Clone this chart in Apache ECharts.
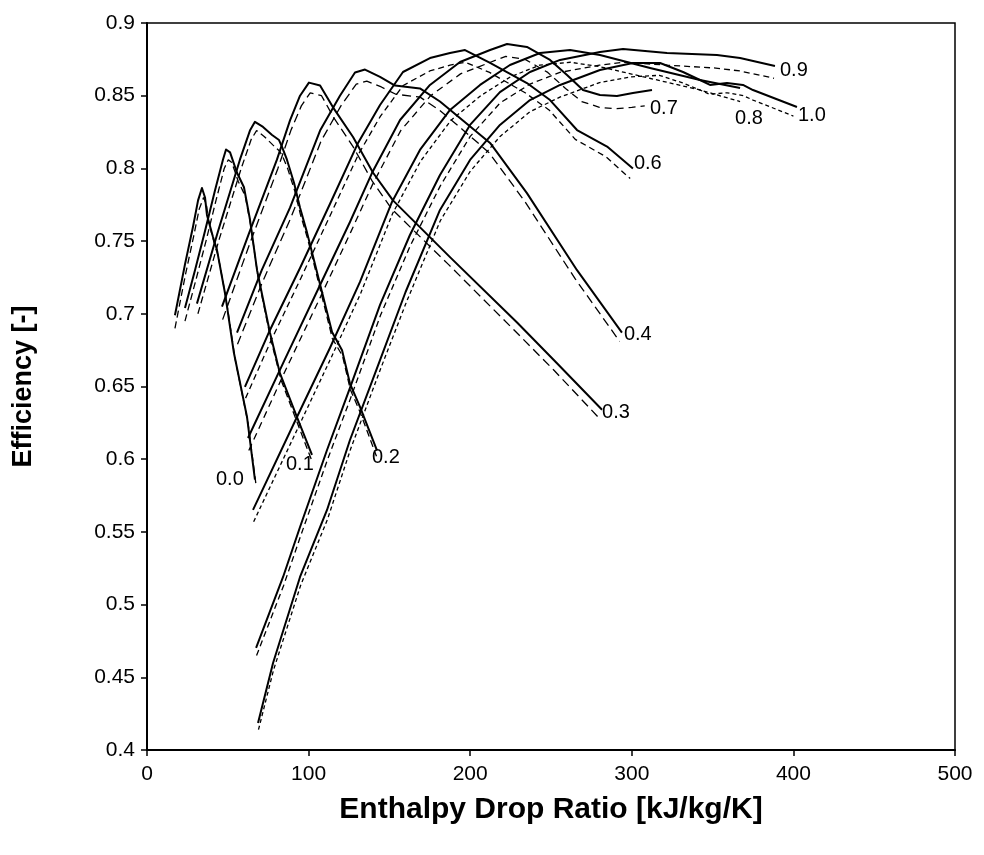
<!DOCTYPE html>
<html>
<head>
<meta charset="utf-8">
<script src="https://cdn.jsdelivr.net/npm/echarts@6/dist/echarts.min.js"></script>
<style>
html,body{margin:0;padding:0;background:#fff;}
#c{width:984px;height:855px;}
</style>
</head>
<body>
<div id="c"></div>
<script>
// Curve labels
const curveNames = ['0.0','0.1','0.2','0.3','0.4','0.6','0.7','0.8','0.9','1.0'];
// X tick values / Y tick values
const xTicks = [0,100,200,300,400,500];
const yTicks = [0.4,0.45,0.5,0.55,0.6,0.65,0.7,0.75,0.8,0.85,0.9];

// Solid curves [enthalpy drop ratio, efficiency]
const s00 = [[17.3,0.699],[23.5,0.734],[28.5,0.760],[31.6,0.778],[34.0,0.7865],[35.9,0.780],[37.1,0.768],[40.8,0.753],[43.3,0.744],[48.3,0.714],[53.8,0.673],[61.9,0.629],[66.8,0.586]];
const s01 = [[23.5,0.704],[29.7,0.730],[35.9,0.757],[42.1,0.785],[47.0,0.806],[48.9,0.813],[51.4,0.811],[55.7,0.797],[60.0,0.787],[63.7,0.765],[68.1,0.730],[76.1,0.687],[82.3,0.659],[92.8,0.629],[102.1,0.603]];
const s02 = [[30.9,0.707],[44,0.757],[57.5,0.806],[63.7,0.826],[66.8,0.832],[71.8,0.8285],[77.4,0.823],[81.7,0.8195],[83.5,0.815],[86.6,0.806],[91.0,0.790],[94.7,0.773],[99.0,0.756],[103.3,0.737],[114.5,0.6875],[120.7,0.675],[125.6,0.652],[131.8,0.636],[142.3,0.606]];
const s03 = [[46.4,0.705],[63,0.755],[80.4,0.806],[88.5,0.833],[94.7,0.850],[100.2,0.859],[107.1,0.857],[115.1,0.842],[127.5,0.8216],[139.9,0.797],[152.2,0.778],[187.5,0.739],[229.0,0.694],[253.7,0.666],[281.6,0.634]];
const s04 = [[55.7,0.687],[71,0.730],[88.5,0.773],[107.1,0.826],[119.4,0.850],[128.7,0.866],[134.9,0.868],[144.2,0.863],[153.5,0.857],[168.9,0.855],[181.3,0.846],[195.5,0.833],[212.3,0.8175],[235.1,0.783],[266.1,0.730],[293.9,0.687]];
const s06 = [[60.6,0.6497],[76.1,0.6889],[94.7,0.7315],[113.2,0.7755],[130.6,0.8175],[144.2,0.8436],[158.4,0.8663],[175.1,0.8759],[187.5,0.8794],[196.8,0.8814],[212.3,0.8725],[235.1,0.8587],[249.4,0.847],[266.1,0.8264],[284.7,0.815],[300.7,0.800]];
const s07 = [[62.5,0.6146],[84.8,0.6675],[107.1,0.7198],[125.6,0.7631],[139.2,0.7968],[156.6,0.8333],[175.1,0.8574],[193.7,0.8732],[212.3,0.8814],[222.8,0.8856],[235.1,0.8835],[249.4,0.8746],[259.9,0.8642],[269.8,0.8539],[280.3,0.8505],[290.8,0.8498],[300.7,0.8519],[312.5,0.8539]];
const s08 = [[65.6,0.5651],[92.8,0.6290],[113.2,0.6765],[131.8,0.7219],[151.6,0.7769],[168.9,0.8127],[187.5,0.8402],[206.1,0.8574],[224.6,0.8711],[243.2,0.8794],[261.8,0.8814],[280.3,0.8780],[311.3,0.8690],[342.2,0.8608],[367.0,0.8553]];
const s09 = [[67.5,0.4702],[84.2,0.5190],[94.7,0.5534],[111.4,0.6063],[125.6,0.6490],[144.2,0.7061],[162.7,0.7542],[181.3,0.7955],[199.9,0.8299],[218.4,0.8525],[237.0,0.8663],[255.6,0.8746],[280.3,0.8801],[294.6,0.8821],[321.8,0.8794],[352.7,0.8780],[367.0,0.8759],[388.6,0.8704]];
const s10 = [[68.7,0.4186],[78.0,0.4598],[94.7,0.5190],[111.4,0.5651],[125.6,0.6132],[144.2,0.6682],[160.0,0.715],[181.3,0.7714],[199.9,0.8058],[218.4,0.8299],[237.0,0.8470],[255.6,0.8574],[280.3,0.8677],[300.7,0.8725],[317.5,0.8725],[331.7,0.8663],[342.2,0.8608],[348.4,0.8574],[358.9,0.8587],[368.8,0.8574],[375.0,0.8539],[402.2,0.8422]];

// Dashed companion curves
const d00 = [[17.3,0.690],[23.8,0.727],[29.0,0.754],[32.3,0.772],[35.0,0.780],[36.8,0.775],[38.0,0.764],[41.5,0.749],[44.0,0.740],[49.0,0.710],[54.5,0.669],[62.5,0.625],[67.5,0.582]];
const d01 = [[23.5,0.695],[30.2,0.723],[36.5,0.750],[42.7,0.778],[47.8,0.800],[50.3,0.806],[52.5,0.804],[56.5,0.791],[60.8,0.781],[64.3,0.760],[68.6,0.726],[76.5,0.683],[82.8,0.655],[93.0,0.625],[102.0,0.599]];
const d02 = [[31.5,0.700],[44.6,0.751],[58.3,0.800],[64.5,0.820],[67.8,0.826],[72.5,0.822],[78.0,0.816],[82.0,0.812],[84.0,0.808],[87.0,0.800],[91.3,0.785],[95.0,0.768],[99.3,0.752],[103.6,0.733],[114.7,0.683],[121.0,0.671],[125.8,0.648],[132.0,0.632],[142.0,0.602]];
const d03 = [[46.8,0.696],[63.5,0.748],[81,0.800],[89,0.826],[95.5,0.843],[101,0.852],[108,0.850],[115.5,0.835],[127.5,0.815],[139.5,0.791],[151.5,0.772],[186.5,0.734],[227,0.689],[252,0.661],[280,0.628]];
const d04 = [[56,0.679],[71.5,0.722],[89,0.766],[107.8,0.819],[120,0.843],[129.5,0.858],[136,0.860],[145,0.856],[154,0.851],[169,0.849],[181,0.840],[195,0.827],[211.5,0.811],[234,0.777],[265,0.724],[292.5,0.681]];
const d06 = [[61,0.642],[76.5,0.681],[95,0.724],[113.5,0.768],[131,0.810],[144.5,0.836],[158.5,0.857],[175,0.867],[187.5,0.871],[197,0.873],[212,0.866],[234,0.852],[249,0.840],[265,0.820],[284,0.808],[299,0.793]];
const d07 = [[63,0.606],[85.2,0.660],[107.5,0.712],[126,0.756],[139.6,0.789],[157,0.826],[175.5,0.850],[194,0.865],[212.5,0.873],[222,0.877],[234,0.875],[248,0.866],[259,0.855],[269,0.846],[280,0.842],[290,0.841],[300,0.842],[308,0.843]];
const d08 = [[66,0.557],[93.2,0.621],[113.6,0.669],[132.2,0.714],[152,0.769],[169.3,0.805],[188,0.833],[206.5,0.850],[225,0.863],[243,0.871],[262,0.873],[280,0.870],[311,0.862],[342,0.854],[367,0.846]];
const d09 = [[67.8,0.465],[84.5,0.513],[95,0.547],[111.8,0.600],[126,0.642],[144.5,0.699],[163,0.747],[181.5,0.788],[200,0.822],[218.5,0.845],[237,0.858],[255.5,0.866],[280,0.871],[295,0.873],[322,0.871],[352,0.869],[367,0.867],[388,0.862]];
const d10 = [[69,0.414],[78.3,0.455],[95,0.513],[111.8,0.559],[126,0.607],[144.5,0.662],[160.5,0.708],[181.5,0.764],[200,0.798],[218.5,0.822],[237,0.839],[255.5,0.849],[280,0.859],[300,0.863],[317,0.864],[331,0.859],[342,0.854],[348,0.851],[359,0.852],[369,0.850],[375,0.847],[400,0.836]];

const solids = [s00,s01,s02,s03,s04,s06,s07,s08,s09,s10];
const dashes = [d00,d01,d02,d03,d04,d06,d07,d08,d09,d10];
// label offsets relative to curve end (style only)
const labelOffsets = [[-42,0],[-29,10],[-8,7],[-3,3],[-1,2],[-2,-5],[-5,18],[-8,30],[2,4],[-2,8]];
const dashPatterns = [[7,4],[7,4],[7,4],[9,5],[9,5],[6,4],[7,5],[4,3],[6,4],[4,3]];

const FONT = 'Liberation Sans, Arial, sans-serif';
const series = [];
solids.forEach((d,i)=>{
  series.push({
    type:'line', name:curveNames[i], data:d, showSymbol:false, symbol:'none',
    smooth:false,
    lineStyle:{color:'#000', width:2, join:'round'},
    endLabel:{show:true, formatter:curveNames[i], color:'#000', fontSize:20, fontFamily:FONT,
      offset:labelOffsets[i], align:'left', verticalAlign:'middle', distance:3},
    silent:true, animation:false, z:3
  });
});
dashes.forEach((d,i)=>{
  series.push({
    type:'line', name:curveNames[i]+'d', data:d, showSymbol:false, symbol:'none',
    smooth:false,
    lineStyle:{color:'#000', width:1.3, type:dashPatterns[i]},
    silent:true, animation:false, z:2
  });
});

const chart = echarts.init(document.getElementById('c'), null, {renderer:'canvas'});
chart.setOption({
  backgroundColor:'#fff',
  animation:false,
  grid:{left:147, top:23, width:808, height:727, show:true, borderColor:'#000', borderWidth:1.5, backgroundColor:'transparent'},
  xAxis:{
    type:'value', min:xTicks[0], max:xTicks[xTicks.length-1], interval:100,
    name:'Enthalpy Drop Ratio [kJ/kg/K]', nameLocation:'middle', nameGap:45,
    nameTextStyle:{fontSize:30, fontWeight:'bold', fontFamily:FONT, color:'#000'},
    axisLine:{show:true, onZero:false, lineStyle:{color:'#000', width:2}},
    axisTick:{show:true, inside:false, length:6, lineStyle:{color:'#000', width:1.5}},
    axisLabel:{fontSize:21, fontFamily:FONT, color:'#000', margin:14},
    splitLine:{show:false}
  },
  yAxis:{
    type:'value', min:yTicks[0], max:yTicks[yTicks.length-1], interval:0.05,
    name:'Efficiency [-]', nameLocation:'middle', nameGap:110, nameRotate:90,
    nameTextStyle:{fontSize:27, fontWeight:'bold', fontFamily:FONT, color:'#000'},
    axisLine:{show:true, onZero:false, lineStyle:{color:'#000', width:2}},
    axisTick:{show:true, inside:false, length:6, lineStyle:{color:'#000', width:1.5}},
    axisLabel:{fontSize:21, fontFamily:FONT, color:'#000', margin:12,
      formatter:v=>String(+v.toFixed(2))},
    splitLine:{show:false}
  },
  series:series
});
</script>
</body>
</html>
